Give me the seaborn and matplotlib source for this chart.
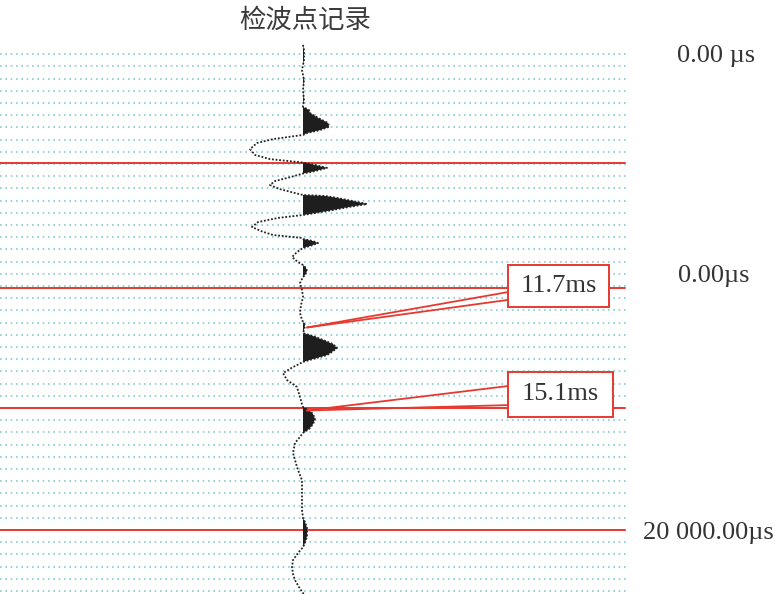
import numpy as np
import matplotlib.pyplot as plt
import matplotlib.transforms as mtransforms
from matplotlib.patches import Rectangle
import seaborn as sns

sns.set_style('white')
plt.rcParams['font.family'] = ['Liberation Serif', 'Noto Sans CJK SC', 'DejaVu Sans']

# wiggle trace: time (ms) and amplitude (arbitrary units)
trace_time = [0.12, 0.33, 0.74, 1.15, 1.56, 1.97, 2.38, 2.58, 2.66, 2.79, 2.91, 3.11,
              3.32, 3.48, 3.61, 3.73, 3.81, 3.98, 4.14, 4.39, 4.63, 4.80, 4.94, 5.04,
              5.16, 5.29, 5.39, 5.53, 5.70, 5.86, 6.02, 6.19, 6.27, 6.31, 6.39, 6.52,
              6.64, 6.76, 6.89, 7.01, 7.09, 7.21, 7.38, 7.58, 7.75, 7.91, 8.03, 8.07,
              8.16, 8.24, 8.36, 8.44, 8.61, 8.81, 9.02, 9.14, 9.26, 9.39, 9.55, 9.63,
              9.88, 10.16, 10.45, 10.78, 11.11, 11.39, 11.60, 11.80, 11.93, 12.05, 12.21,
              12.38, 12.54, 12.70, 12.83, 12.99, 13.11, 13.24, 13.32, 13.57, 13.85, 14.14,
              14.55, 14.84, 14.96, 15.08, 15.25, 15.45, 15.66, 15.86, 16.02, 16.23, 16.43,
              16.84, 17.13, 17.42, 17.75, 17.95, 18.36, 18.77, 19.18, 19.51, 19.67, 19.92,
              20.25, 20.53, 20.70, 20.94, 21.23, 21.52, 21.80, 22.05, 22.34, 22.58, 22.75]
trace_amp = [0, 1, 1, -1, 1, 0, 1, 0, 0, 6, 7, 15,
             25, 26, 17, 4, 0, -30, -46, -53, -48, -33, 0, 12,
             24, 12, 0, -12, -28, -33, -24, -8, 0, 22, 34, 50,
             64, 46, 29, 12, 0, -25, -45, -51, -42, -30, -1, 0,
             10, 15, 7, 0, -6, -11, -5, 0, 3, 4, 2, 0,
             -3, -1, 0, -2, -3, -1, 2, 1, 0, 10, 20,
             30, 34, 29, 24, 10, 0, -6, -10, -20, -16, -6,
             -3, -1, 0, 6, 10, 12, 10, 6, 0, -4, -8,
             -10, -8, -6, -3, -1, -1, -1, -1, 0, 2, 4,
             4, 2, 0, -5, -10, -11, -10, -8, -4, 0, 2]

grid_times = np.arange(0.5, 22.75, 0.5)
marker_times = [4.95, 10.1, 15.0, 20.0]

pick_times = [11.7, 15.1]
pick_labels = ['11.7ms', '15.1ms']

side_labels = ['0.00 µs', '0.00µs', '20 000.00µs']
side_times = [0.57, 9.57, 20.1]

title = '检波点记录'

red = '#e8382f'

fig = plt.figure(figsize=(7.75, 5.94), dpi=100)
ax = fig.add_axes([0, 0, 1, 1])
ax.set_xlim(-303, 472)
ax.set_ylim(22.62, -1.72)
ax.axis('off')

blend = mtransforms.blended_transform_factory(ax.transAxes, ax.transData)

# dotted guide lines and red time markers
ax.hlines(grid_times, -303, 325, colors='#86cdd4', linewidth=1.2,
          linestyles=(0, (1, 2.2)), zorder=1)
for t in marker_times:
    ax.axhline(t, xmin=0, xmax=0.806, color=red, lw=1.4, zorder=2)

# trace
tt = np.array(trace_time)
aa = np.array(trace_amp)
ax.fill_betweenx(tt, 0, aa, where=aa > 0, interpolate=True, color='#1e1e1e', lw=0, zorder=3)
sns.lineplot(x=aa, y=tt, orient='y', sort=False, color='#222222', lw=1.3,
             linestyle=(0, (1, 1)), ax=ax, zorder=4)

# pick callouts
boxes = [(0.655, 0.786, 9.14, 10.86, 10.25, 10.57),
         (0.655, 0.791, 13.52, 15.37, 14.10, 14.88)]
for t, lab, (x0, x1, y0, y1, w0, w1) in zip(pick_times, pick_labels, boxes):
    for w in (w0, w1):
        ax.annotate('', xy=(4, t), xycoords='data', xytext=(x0, w), textcoords=blend,
                    arrowprops=dict(arrowstyle='-', color=red, lw=1.3,
                                    shrinkA=0, shrinkB=0), zorder=5)
    ax.add_patch(Rectangle((x0, y0), x1 - x0, y1 - y0, transform=blend,
                           facecolor='white', edgecolor=red, lw=1.4, zorder=6))
    ax.text((x0 + x1) / 2, (y0 + y1) / 2, lab, transform=blend, ha='center',
            va='center', fontsize=19, color='#333333', zorder=7)

# right side labels
side_x = [0.874, 0.875, 0.830]
for x, t, lab in zip(side_x, side_times, side_labels):
    ax.text(x, t, lab, transform=blend, ha='left', va='center', fontsize=19,
            color='#333333')

fig.text(0.3935, 0.966, title, ha='center', va='center', fontsize=19,
         color='#3a3a3a', family=['Noto Sans CJK SC', 'DejaVu Sans'])

fig.savefig('out.png', dpi=100)
